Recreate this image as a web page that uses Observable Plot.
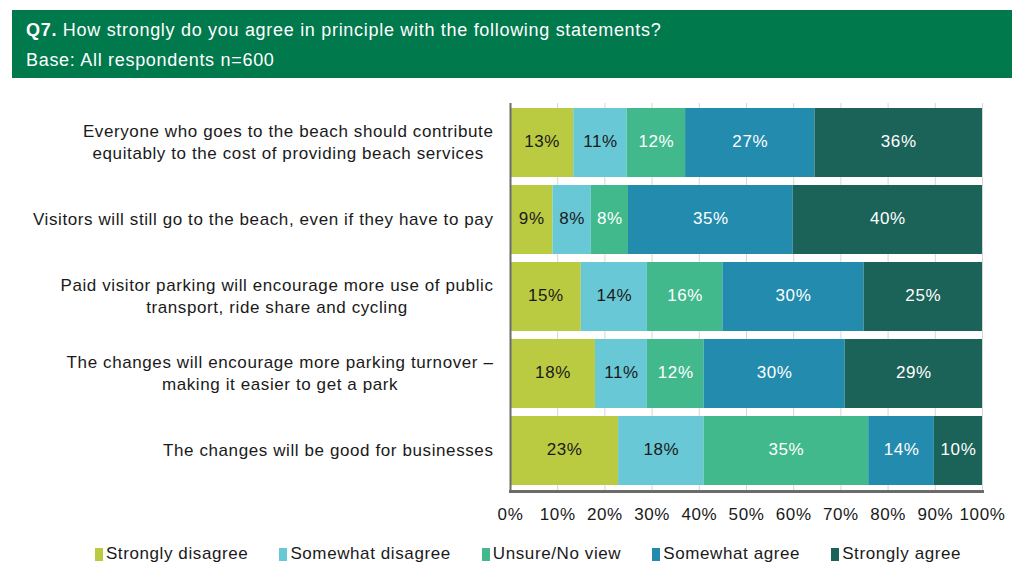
<!DOCTYPE html>
<html>
<head>
<meta charset="utf-8">
<script src="https://cdn.jsdelivr.net/npm/d3@7"></script>
<script src="https://cdn.jsdelivr.net/npm/@observablehq/plot@0.6"></script>
<style>
  html, body { margin: 0; padding: 0; background: #fff; width: 1019px; height: 565px; overflow: hidden; font-family: "Liberation Sans", Arial, Helvetica, sans-serif; }
  #header { position: absolute; left: 12px; top: 10px; width: 1000px; height: 68px; background: #00794d; color: #fff; }
  #header .t1 { position: absolute; top: 10px; left: 14px; font-size: 18px; letter-spacing: 0.7px; white-space: nowrap; }
  #header .t2 { position: absolute; top: 40px; left: 14px; font-size: 18px; letter-spacing: 0.7px; white-space: nowrap; }
  #chart { position: absolute; left: 0; top: 80px; }
  #legend { position: absolute; left: 0; top: 544px; width: 1019px; display: flex; justify-content: center; font-size: 17px; letter-spacing: 0.6px; color: #1a1a1a; padding-left: 68px; box-sizing: border-box; }
  #legend .item { display: flex; align-items: center; margin-right: 31px; white-space: nowrap; }
  #legend .sw { width: 8px; height: 13px; margin-right: 3px; display: inline-block; }
</style>
</head>
<body>
<div id="header">
  <div class="t1"><b>Q7.</b> How strongly do you agree in principle with the following statements?</div>
  <div class="t2">Base: All respondents n=600</div>
</div>
<div id="chart"></div>
<div id="legend"></div>
<script>
const statements = [
  "Everyone who goes to the beach should contribute\nequitably to the cost of providing beach services",
  "Visitors will still go to the beach, even if they have to pay",
  "Paid visitor parking will encourage more use of public\ntransport, ride share and cycling",
  "The changes will encourage more parking turnover \u2013\nmaking it easier to get a park",
  "The changes will be good for businesses"
];
const categories = ["Strongly disagree", "Somewhat disagree", "Unsure/No view", "Somewhat agree", "Strongly agree"];
const colors = ["#bacb42", "#68c8d6", "#41b98c", "#228bae", "#1b6258"];
const stronglyDisagree = [13.4, 9.0, 15.0, 18.0, 22.9];
const somewhatDisagree = [11.3, 8.1, 14.0, 11.0, 18.1];
const unsureNoView     = [12.4, 7.9, 16.0, 12.0, 34.9];
const somewhatAgree    = [27.4, 34.9, 29.9, 29.9, 13.9];
const stronglyAgree    = [35.5, 40.1, 25.1, 29.1, 10.2];
const xTicks = [0, 10, 20, 30, 40, 50, 60, 70, 80, 90, 100];

const series = [stronglyDisagree, somewhatDisagree, unsureNoView, somewhatAgree, stronglyAgree];
const data = [];
statements.forEach((s, i) => {
  series.forEach((vals, j) => {
    data.push({statement: s, category: categories[j], value: vals[i], dark: j < 2});
  });
});

const plot = Plot.plot({
  width: 1019,
  height: 450,
  marginLeft: 510,
  marginRight: 37,
  marginTop: 23,
  marginBottom: 39,
  style: {fontFamily: '"Liberation Sans", Arial, Helvetica, sans-serif', fontSize: "17px", letterSpacing: "0.6px", color: "#1a1a1a", background: "transparent"},
  x: {domain: [0, 100]},
  y: {domain: statements, paddingInner: 0.1, paddingOuter: 0.05},
  color: {domain: categories, range: colors},
  marks: [
    Plot.ruleX(xTicks, {stroke: "#d6d6d6", strokeWidth: 1}),
    Plot.barX(data, Plot.stackX({x: "value", y: "statement", fill: "category", z: "category"})),
    Plot.text(data, Plot.stackX({x: "value", y: "statement", z: "category", text: d => Math.round(d.value) + "%", fill: d => d.dark ? "#1a1a1a" : "#ffffff", fontSize: 17, dy: -1})),
    Plot.ruleX([0], {stroke: "#6b6b6b", strokeWidth: 2}),
    Plot.frame({anchor: "bottom", stroke: "#6b6b6b", strokeWidth: 3}),
    Plot.axisX(xTicks, {tickSize: 0, tickPadding: 16, tickFormat: d => d + "%", label: null, fontSize: 17, fill: "#1a1a1a"}),
    Plot.axisY({tickSize: 0, tickPadding: 17, label: null, fontSize: 17, lineHeight: 1.3, fill: "#1a1a1a", dy: -2})
  ]
});
document.getElementById("chart").appendChild(plot);

// center multi-line y labels within their block (block right-aligned)
plot.querySelectorAll('g[aria-label="y-axis tick label"] text').forEach(t => {
  const tspans = t.querySelectorAll("tspan");
  if (tspans.length > 1) {
    let maxW = 0;
    tspans.forEach(ts => { maxW = Math.max(maxW, ts.getComputedTextLength()); });
    t.setAttribute("text-anchor", "middle");
    tspans.forEach(ts => ts.setAttribute("x", String(-maxW / 2)));
  }
});

const legend = document.getElementById("legend");
categories.forEach((c, i) => {
  const item = document.createElement("div");
  item.className = "item";
  const sw = document.createElement("span");
  sw.className = "sw";
  sw.style.background = colors[i];
  item.appendChild(sw);
  item.appendChild(document.createTextNode(c));
  legend.appendChild(item);
});
</script>
</body>
</html>
